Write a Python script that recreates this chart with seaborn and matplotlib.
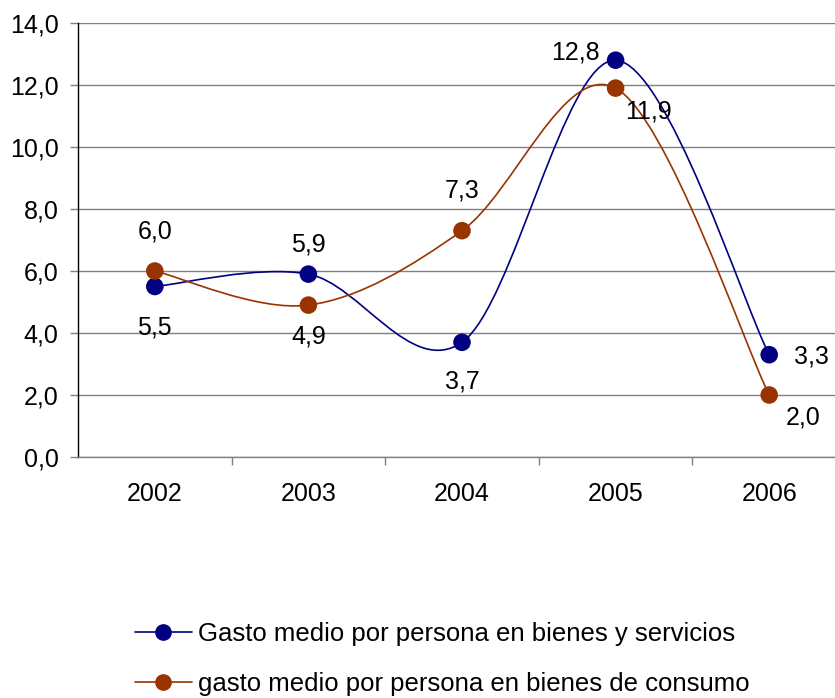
import matplotlib
matplotlib.use('Agg')
import matplotlib.pyplot as plt
import seaborn as sns
import pandas as pd
import numpy as np
from matplotlib.path import Path
from matplotlib.patches import PathPatch
from matplotlib.lines import Line2D
from matplotlib.ticker import FixedLocator, FuncFormatter

# data
years = [2002, 2003, 2004, 2005, 2006]
gasto_bienes_servicios = [5.5, 5.9, 3.7, 12.8, 3.3]
gasto_bienes_consumo = [6.0, 4.9, 7.3, 11.9, 2.0]
label_servicios = "Gasto medio por persona en bienes y servicios"
label_consumo = "gasto medio por persona en bienes de consumo"

BLUE = '#000080'
RED = '#993300'

sns.set_style("white")
plt.rcParams['font.family'] = ['Liberation Sans', 'DejaVu Sans']
plt.rcParams['font.size'] = 18
plt.rcParams['text.color'] = 'black'
plt.rcParams['xtick.labelcolor'] = 'black'
plt.rcParams['ytick.labelcolor'] = 'black'

fig = plt.figure(figsize=(8.35, 6.98), dpi=100)
ax = fig.add_axes([78 / 835, 1 - 457 / 698, 768 / 835, 434 / 698])


def smooth_path(xs, ys):
    # Excel-style smoothed line: cubic bezier with catmull-rom tangents
    xs = np.asarray(xs, float)
    ys = np.asarray(ys, float)
    n = len(xs)
    verts = [(xs[0], ys[0])]
    codes = [Path.MOVETO]
    for i in range(n - 1):
        i0 = max(i - 1, 0)
        i3 = min(i + 2, n - 1)
        c1 = (xs[i] + (xs[i + 1] - xs[i0]) / 6, ys[i] + (ys[i + 1] - ys[i0]) / 6)
        c2 = (xs[i + 1] - (xs[i3] - xs[i]) / 6, ys[i + 1] - (ys[i3] - ys[i]) / 6)
        verts += [c1, c2, (xs[i + 1], ys[i + 1])]
        codes += [Path.CURVE4] * 3
    return Path(verts, codes)


df = pd.DataFrame({
    'year': years * 2,
    'valor': gasto_bienes_servicios + gasto_bienes_consumo,
    'serie': [label_servicios] * 5 + [label_consumo] * 5,
})

for vals, col in [(gasto_bienes_servicios, BLUE), (gasto_bienes_consumo, RED)]:
    ax.add_patch(PathPatch(smooth_path(years, vals), facecolor='none',
                           edgecolor=col, lw=1.2, zorder=3))

sns.scatterplot(data=df, x='year', y='valor', hue='serie',
                palette={label_servicios: BLUE, label_consumo: RED},
                s=160, edgecolor='none', legend=False, ax=ax, zorder=4)

# value labels (offsets in pixels)
offs_serv = [(0, -41), (0, 30), (0, -39), (-40, 8), (42, -2)]
offs_cons = [(0, 39), (0, -31), (0, 40), (33, -23), (34, -22)]
for vals, offs in [(gasto_bienes_servicios, offs_serv), (gasto_bienes_consumo, offs_cons)]:
    for x, v, o in zip(years, vals, offs):
        ax.annotate(f"{v:.1f}".replace('.', ','), (x, v), xytext=o,
                    textcoords='offset pixels', ha='center', va='center',
                    fontsize=18, color='black', zorder=5)

ax.set_xlim(2001.5, 2006.5)
ax.set_ylim(0, 14)
ax.set_yticks(np.arange(0, 14.1, 2))
ax.yaxis.set_major_formatter(FuncFormatter(lambda v, p: f"{v:.1f}".replace('.', ',')))
ax.set_xticks(years)
ax.set_xticklabels([str(y) for y in years])
ax.xaxis.set_minor_locator(FixedLocator([2002.5, 2003.5, 2004.5, 2005.5]))
ax.tick_params(axis='x', which='major', length=0, pad=18)
ax.tick_params(axis='x', which='minor', length=6, width=1, color='#808080', direction='out', bottom=True)
ax.tick_params(axis='y', length=6, width=1, color='#808080', direction='out', left=True, pad=8)
ax.grid(axis='y', color='#808080', lw=1)
ax.set_axisbelow(True)
ax.set_xlabel('')
ax.set_ylabel('')
for s in ['top', 'right']:
    ax.spines[s].set_visible(False)
ax.spines['left'].set_color('black')
ax.spines['left'].set_linewidth(1)
ax.spines['bottom'].set_color('#808080')
ax.spines['bottom'].set_linewidth(1)

handles = [Line2D([], [], color=BLUE, lw=1.2, marker='o', markersize=11),
           Line2D([], [], color=RED, lw=1.2, marker='o', markersize=11)]
fig.legend(handles, [label_servicios, label_consumo], loc='upper left',
           bbox_to_anchor=(112 / 835, 1 - 599 / 698), frameon=False,
           handlelength=2.2, handletextpad=0.25, labelspacing=1.0,
           fontsize=18.5, borderpad=0.4)

fig.savefig('out.png', dpi=100)
